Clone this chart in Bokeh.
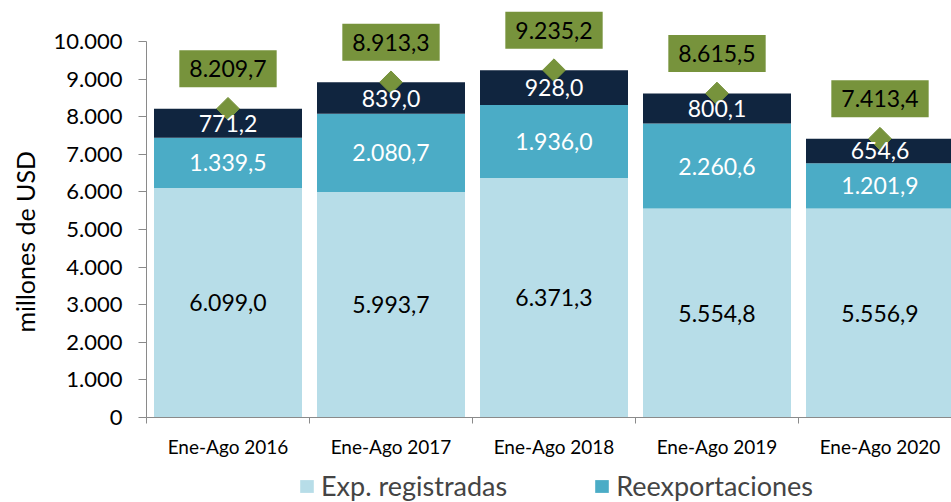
import numpy as np
from bokeh.plotting import figure
from bokeh.layouts import column
from bokeh.models import ColumnDataSource, Range1d, FixedTicker, Legend, LegendItem, Title
from bokeh.core.properties import value
from bokeh.embed import file_html
from bokeh.resources import INLINE

# ---- data ----
categories = ["Ene-Ago 2016", "Ene-Ago 2017", "Ene-Ago 2018", "Ene-Ago 2019", "Ene-Ago 2020"]
exp_registradas = [6099.0, 5993.7, 6371.3, 5554.8, 5556.9]
reexportaciones = [1339.5, 2080.7, 1936.0, 2260.6, 1201.9]
otros = [771.2, 839.0, 928.0, 800.1, 654.6]
totales = [8209.7, 8913.3, 9235.2, 8615.5, 7413.4]
y_ticks = [0, 1000, 2000, 3000, 4000, 5000, 6000, 7000, 8000, 9000, 10000]
y_tick_labels = ["0", "1.000", "2.000", "3.000", "4.000", "5.000", "6.000",
                 "7.000", "8.000", "9.000", "10.000"]
series_names = ["Exp. registradas", "Reexportaciones"]
y_title = "millones de  USD"

LIGHT = "#B7DDE8"
TEAL = "#4BACC6"
NAVY = "#10253F"
GREEN = "#77933C"
FONT = "Lato"


def fmt(v):
    s = f"{v:,.1f}"
    return s.replace(",", "X").replace(".", ",").replace("X", ".")


xs = [i + 0.5 for i in range(len(categories))]
b1 = [0.0] * len(xs)
t1 = exp_registradas
t2 = [a + b for a, b in zip(t1, reexportaciones)]
t3 = [a + b for a, b in zip(t2, otros)]

src = ColumnDataSource(dict(
    x=xs, b1=b1, t1=t1, t2=t2, t3=t3, tot=totales,
    m1=[(a + b) / 2 for a, b in zip(b1, t1)],
    m2=[(a + b) / 2 for a, b in zip(t1, t2)],
    m3=[(a + b) / 2 for a, b in zip(t2, t3)],
    l1=[fmt(v) for v in exp_registradas],
    l2=[fmt(v) for v in reexportaciones],
    l3=[fmt(v) for v in otros],
    lt=[fmt(v) for v in totales],
))

W_FIG = 951
H_MAIN, H_LEG = 460, 42
LEFT = 146
FRAME_BOTTOM = 418
ncat = (W_FIG - LEFT) / 163.0
ytop = FRAME_BOTTOM / 37.7 * 1000
p = figure(width=W_FIG, height=H_MAIN,
           x_range=Range1d(0, ncat), y_range=Range1d(0, ytop),
           output_backend="svg", toolbar_location=None,
           min_border_left=LEFT, min_border_right=0, min_border_top=0,
           min_border_bottom=H_MAIN - FRAME_BOTTOM)
p.outline_line_color = None
p.xgrid.visible = False
p.ygrid.visible = False

W = 148 / 163.0
r1 = p.vbar(x="x", bottom="b1", top="t1", width=W, source=src, fill_color=LIGHT, line_color=None)
r2 = p.vbar(x="x", bottom="t1", top="t2", width=W, source=src, fill_color=TEAL, line_color=None)
r3 = p.vbar(x="x", bottom="t2", top="t3", width=W, source=src, fill_color=NAVY, line_color=None)

p.scatter(x="x", y="tot", source=src, marker="square", size=16, angle=np.pi / 4,
          fill_color=GREEN, line_color=GREEN)

p.text(x="x", y="m1", text="l1", source=src, text_align="center", text_baseline="middle",
       text_font=value(FONT), text_font_size="23px", text_color="black")
p.text(x="x", y="m2", text="l2", source=src, text_align="center", text_baseline="middle",
       text_font=value(FONT), text_font_size="23px", text_color="white")
p.text(x="x", y="m3", text="l3", source=src, text_align="center", text_baseline="middle",
       text_font=value(FONT), text_font_size="23px", text_color="white")
p.text(x="x", y="tot", text="lt", source=src, text_align="center", text_baseline="middle",
       y_offset=-40, text_font=value(FONT), text_font_size="23px", text_color="black",
       background_fill_color=GREEN, padding=(10, 10))

# y axis
ya = p.yaxis[0]
ya.ticker = FixedTicker(ticks=y_ticks)
ya.major_label_overrides = {t: l for t, l in zip(y_ticks, y_tick_labels)}
ya.bounds = (0, 10000)
ya.minor_tick_line_color = None
ya.major_tick_in = 0
ya.major_tick_out = 8
ya.major_label_standoff = 16
ya.axis_line_color = "#8A8A8A"
ya.major_tick_line_color = "#8A8A8A"
ya.major_label_text_font = FONT
ya.major_label_text_font_size = "22px"
ya.major_label_text_color = "black"

p.add_layout(Title(text=y_title, align="left", vertical_align="top", offset=85,
                   standoff=18, text_font=FONT, text_font_size="25px",
                   text_font_style="normal", text_color="black"), "left")

# x axis
xa = p.xaxis[0]
xa.ticker = FixedTicker(ticks=xs, minor_ticks=list(range(len(categories) + 1)))
xa.major_label_overrides = {x: c for x, c in zip(xs, categories)}
xa.major_tick_line_color = None
xa.major_tick_in = 0
xa.major_tick_out = 6
xa.minor_tick_in = 0
xa.minor_tick_out = 6
xa.minor_tick_line_color = "#8A8A8A"
xa.axis_line_color = "#8A8A8A"
xa.major_label_standoff = 11
xa.major_label_text_font = FONT
xa.major_label_text_font_size = "19px"
xa.major_label_text_color = "black"

# legend strip below (zero-height legend proxies)
q = figure(width=W_FIG, height=H_LEG, x_range=Range1d(0, 1), y_range=Range1d(0, 1),
           output_backend="svg", toolbar_location=None,
           min_border_left=0, min_border_right=0, min_border_top=0, min_border_bottom=0)
q.axis.visible = False
q.grid.visible = False
q.outline_line_color = None
q.background_fill_color = "white"
q.border_fill_color = "white"
g1 = q.vbar(x=[0.5], bottom=[0], top=[0], width=0.01, fill_color=LIGHT, line_color=None)
g2 = q.vbar(x=[0.5], bottom=[0], top=[0], width=0.01, fill_color=TEAL, line_color=None)
legend = Legend(items=[LegendItem(label=series_names[0], renderers=[g1]),
                       LegendItem(label=series_names[1], renderers=[g2])],
                orientation="horizontal", location=(152, 0), padding=0, margin=0,
                spacing=86, label_standoff=6, glyph_width=17, glyph_height=16,
                label_text_font=FONT, label_text_font_size="27px",
                border_line_color=None, background_fill_alpha=0)
q.add_layout(legend)

open("out.html", "w").write(file_html(column(p, q, spacing=0), INLINE))
